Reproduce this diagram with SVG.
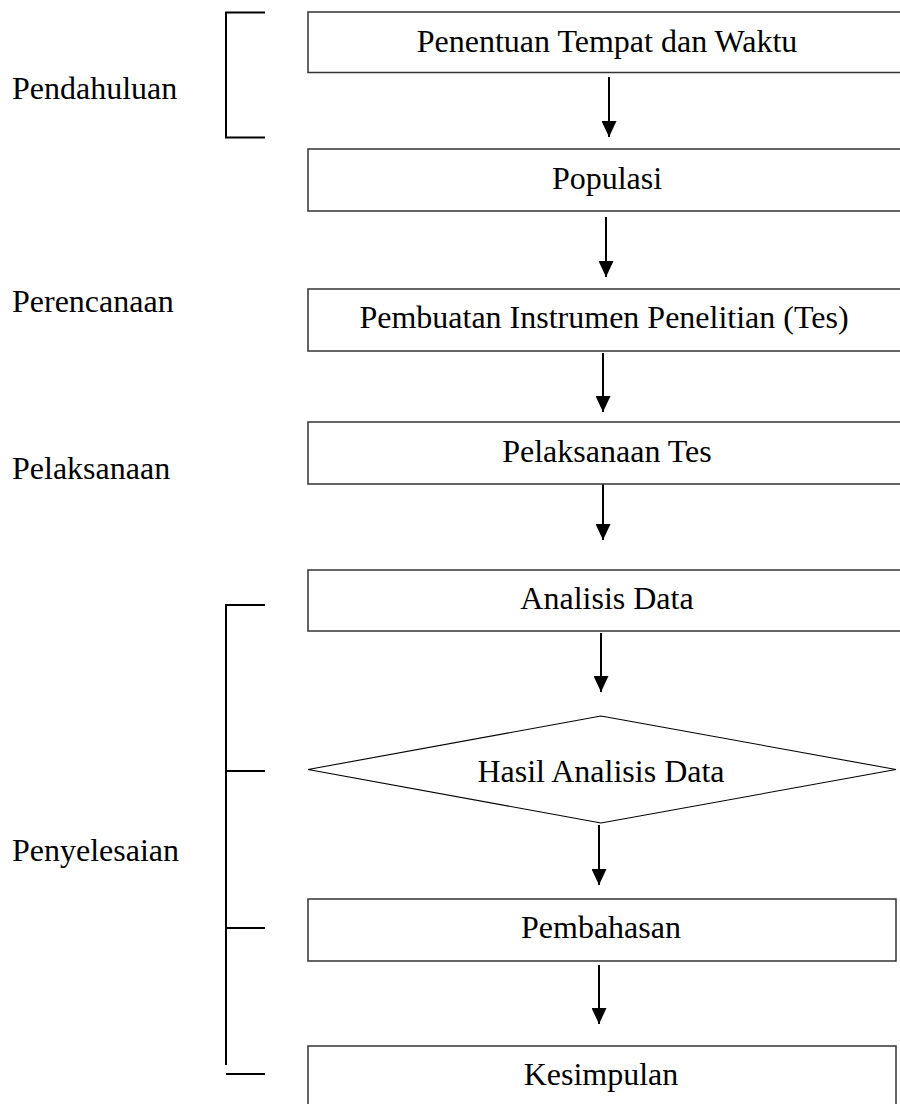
<svg xmlns="http://www.w3.org/2000/svg" width="900" height="1104" viewBox="0 0 900 1104">
<style>
.box{fill:#fff;stroke:#333;stroke-width:1.5}
.dia{fill:#fff;stroke:#000;stroke-width:1.1}
.br{fill:none;stroke:#000;stroke-width:2}
.ar{stroke:#000;stroke-width:2;fill:none;marker-end:url(#ah)}
text{font-family:"Liberation Serif","Times New Roman",serif;font-size:32px;fill:#000}
.c{text-anchor:middle}
</style>
<defs>
<marker id="ah" viewBox="0 0 16 15" refX="16" refY="7.5" markerWidth="16" markerHeight="15" markerUnits="userSpaceOnUse" orient="auto">
<path d="M0,0 L16,7.5 L0,15 z" fill="#000"/>
</marker>
</defs>
<rect width="900" height="1104" fill="#fff"/>
<g id="labels">
<text x="12" y="99">Pendahuluan</text>
<text x="12" y="312">Perencanaan</text>
<text x="12" y="479">Pelaksanaan</text>
<text x="12" y="861">Penyelesaian</text>
</g>
<g id="brackets">
<path class="br" d="M265,12.5 H226 V137.5 H265"/>
<path class="br" d="M265,605 H226 V1065 M226,771 H265 M226,928 H265 M226,1074 H265"/>
</g>
<g id="connectors">
<line class="ar" x1="609" y1="77" x2="609" y2="137"/>
<line class="ar" x1="606" y1="217" x2="606" y2="277"/>
<line class="ar" x1="603" y1="353" x2="603" y2="412"/>
<line class="ar" x1="603" y1="481" x2="603" y2="540"/>
<line class="ar" x1="601" y1="633" x2="601" y2="692"/>
<line class="ar" x1="599" y1="825" x2="599" y2="885"/>
<line class="ar" x1="599" y1="965" x2="599" y2="1024"/>
</g>
<g id="n1"><rect class="box" x="308" y="12" width="594" height="60.5"/><text class="c" x="607" y="51.5">Penentuan Tempat dan Waktu</text></g>
<g id="n2"><rect class="box" x="308" y="149" width="594" height="62"/><text class="c" x="607" y="189">Populasi</text></g>
<g id="n3"><rect class="box" x="308" y="289" width="594" height="62"/><text class="c" x="604" y="328">Pembuatan Instrumen Penelitian (Tes)</text></g>
<g id="n4"><rect class="box" x="308" y="422" width="594" height="62"/><text class="c" x="607" y="462">Pelaksanaan Tes</text></g>
<g id="n5"><rect class="box" x="308" y="570" width="594" height="61"/><text class="c" x="607" y="609">Analisis Data</text></g>
<g id="n6"><polygon class="dia" points="601,716 896,769.5 601,823 308,769.5"/><text class="c" x="601" y="782">Hasil Analisis Data</text></g>
<g id="n7"><rect class="box" x="308" y="899" width="588" height="62"/><text class="c" x="601" y="938">Pembahasan</text></g>
<g id="n8"><rect class="box" x="308" y="1046" width="588" height="70"/><text class="c" x="601" y="1085">Kesimpulan</text></g>
</svg>
